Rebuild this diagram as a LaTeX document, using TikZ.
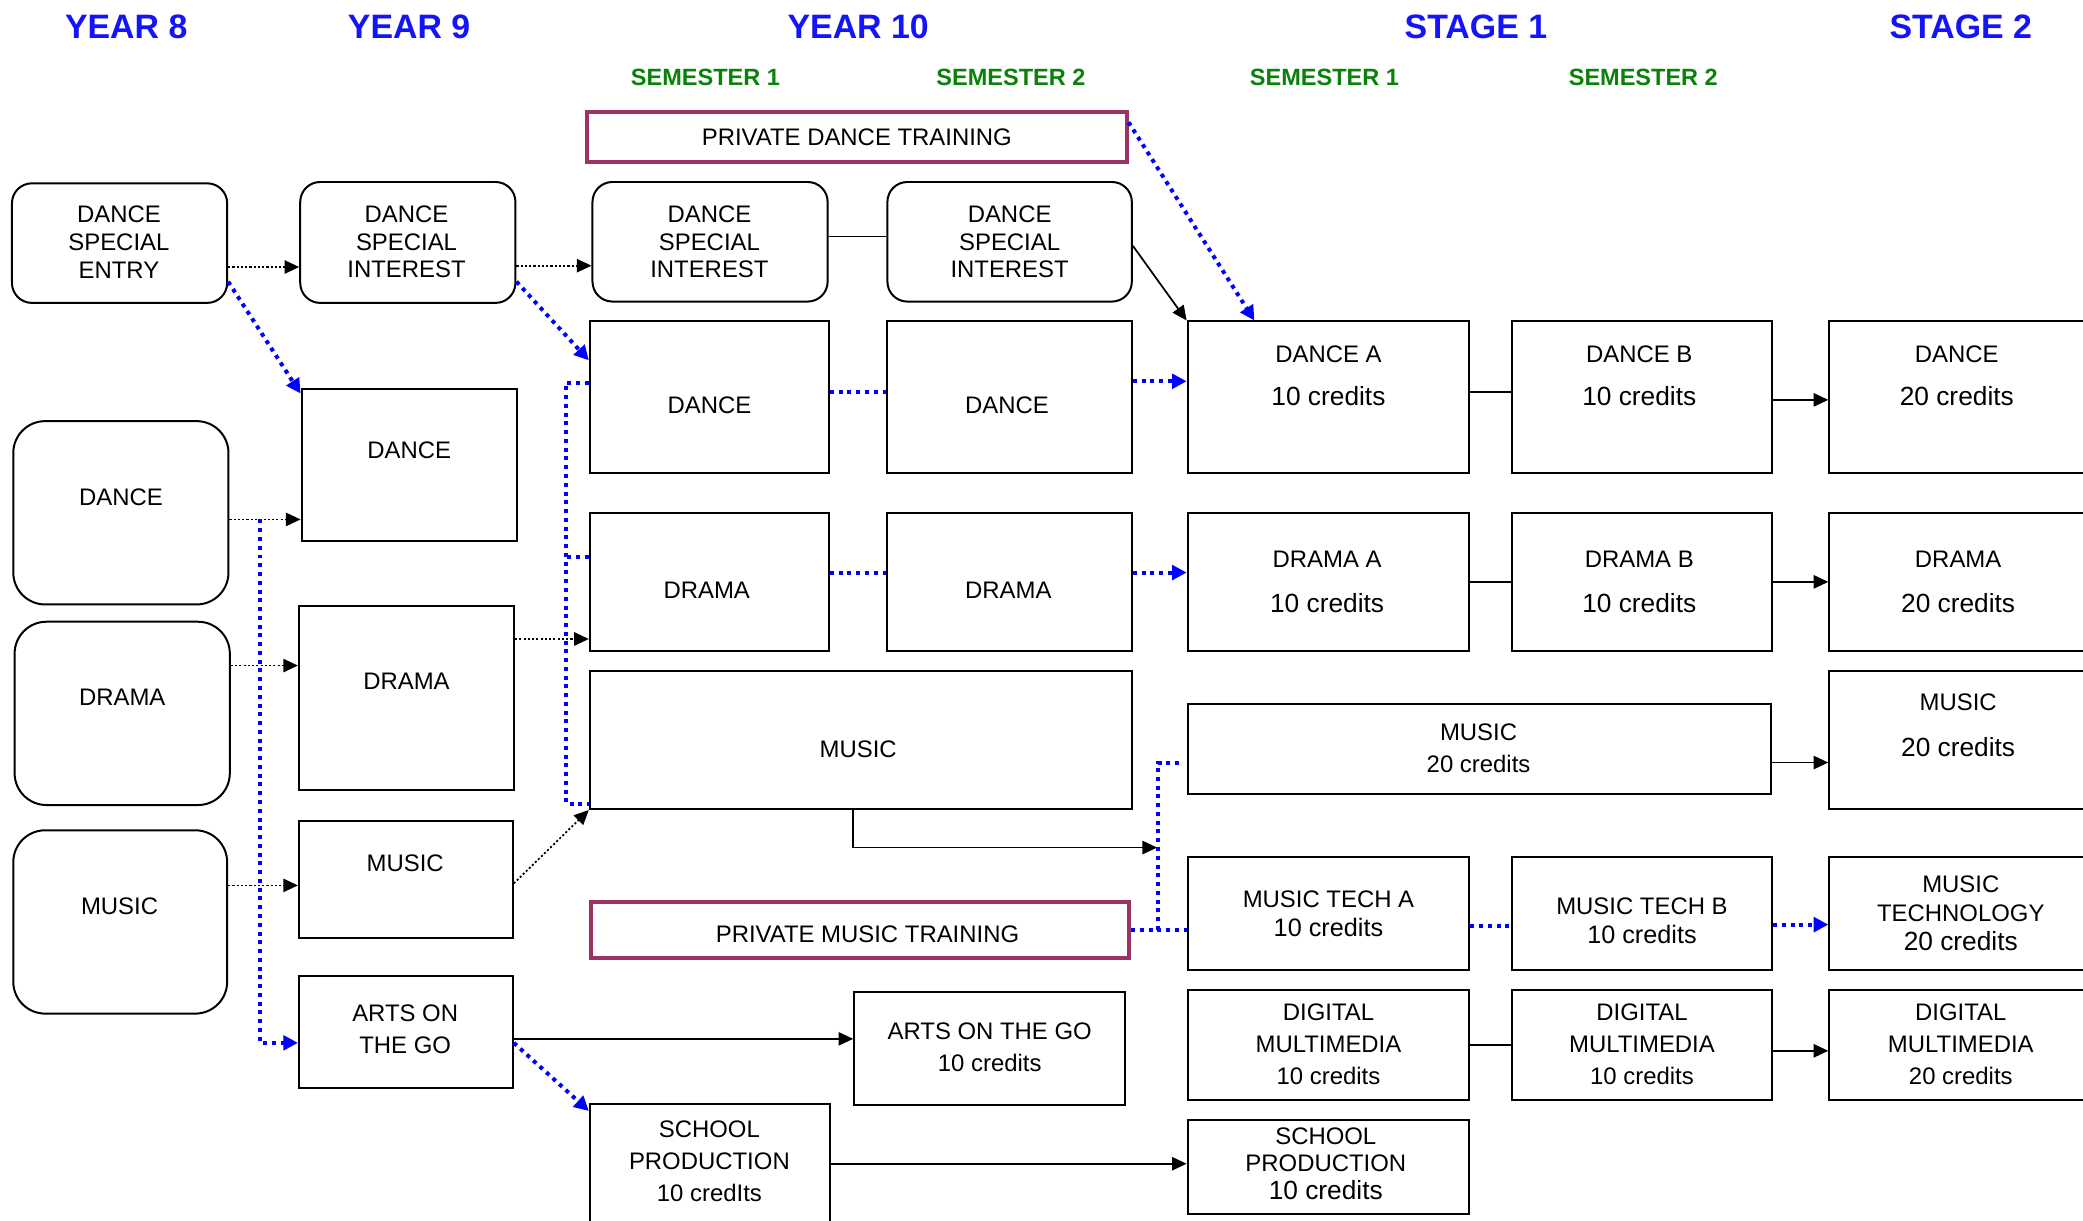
\documentclass[tikz,border=0pt]{standalone}
\usepackage{fontspec}
\setmainfont{Liberation Sans}
\usetikzlibrary{arrows.meta}
\definecolor{hblue}{RGB}{20,20,250}
\definecolor{sgreen}{RGB}{10,130,10}
\definecolor{ppl}{RGB}{153,51,102}
\definecolor{dblue}{RGB}{0,0,255}
\tikzset{
 box/.style={draw=black, line width=1.5pt, inner sep=0pt},
 rbox/.style={box, rounded corners=15pt},
 tbox/.style={box, rounded corners=24pt},
 pbox/.style={draw=ppl, line width=3pt, inner sep=0pt},
 txt/.style={inner sep=0pt, align=center},
 hd/.style={text=hblue, font=\fontsize{25.5}{30}\selectfont\bfseries, inner sep=0pt},
 sm/.style={text=sgreen, font=\fontsize{17.7}{21}\selectfont\bfseries, inner sep=0pt},
 kdot/.style={draw=black, line width=1.3pt, dash pattern=on 1.6pt off 1.6pt, -{Triangle[length=11pt,width=10pt]}},
 bdot/.style={draw=dblue, line width=3pt, dash pattern=on 3pt off 3.6pt},
 barr/.style={bdot, -{Triangle[length=11pt,width=11pt]}},
 sline/.style={draw=black, line width=1.3pt},
 sarr/.style={sline, -{Triangle[length=11pt,width=10pt]}},
}
\newcommand\mkbox[6]{\node[#1, minimum width=#5pt-#3pt, minimum height=#6pt-#4pt] (#2) at ({(#3+#5)/2},{(#4+#6)/2}) {};}
\newcommand\mktxt[5]{\node[txt, font=\fontsize{18}{#4}\selectfont] (#1) at (#2,#3) {#5};}
\newcommand\credb[1]{{\fontsize{19.8}{24}\selectfont #1}}
\newcommand\credm[1]{{\fontsize{19}{24}\selectfont #1}}
\begin{document}
\begin{tikzpicture}[x=1pt,y=-1pt]
\clip (0,0) rectangle (1568,919);
\fill[white] (0,0) rectangle (1568,919);
% headers
\node[hd] (hy8) at (95,20) {YEAR 8};
\node[hd] (hy9) at (308,20) {YEAR 9};
\node[hd] (hy10) at (646,20) {YEAR 10};
\node[hd] (hst1) at (1111,20) {STAGE 1};
\node[hd] (hst2) at (1476,20) {STAGE 2};
\node[sm] (sem1) at (531,58) {SEMESTER 1};
\node[sm] (sem2) at (761,58) {SEMESTER 2};
\node[sm] (sem3) at (997,58) {SEMESTER 1};
\node[sm] (sem4) at (1237,58) {SEMESTER 2};
% Year 8
\mkbox{rbox}{y8dse}{9}{138}{171}{228}
\mkbox{tbox}{y8dance}{10}{317}{172}{455}
\mkbox{tbox}{y8drama}{11}{468}{173}{606}
\mkbox{tbox}{y8music}{10}{625}{171}{763}
\mktxt{t-y8dse}{89.5}{182}{21}{DANCE\\SPECIAL\\ENTRY}
\mktxt{t-y8dance}{91}{374}{21}{DANCE}
\mktxt{t-y8drama}{92}{525}{21}{DRAMA}
\mktxt{t-y8music}{90}{682}{21}{MUSIC}
% Year 9
\mkbox{rbox}{y9dsi}{226}{137}{388}{228}
\mkbox{box}{y9dance}{227}{293}{389}{407}
\mkbox{box}{y9drama}{225}{456}{387}{595}
\mkbox{box}{y9music}{225}{618}{386}{706}
\mkbox{box}{y9arts}{225}{735}{386}{819}
\mktxt{t-y9dsi}{306}{182}{21}{DANCE\\SPECIAL\\INTEREST}
\mktxt{t-y9dance}{308}{339}{21}{DANCE}
\mktxt{t-y9drama}{306}{513}{21}{DRAMA}
\mktxt{t-y9music}{305}{650}{21}{MUSIC}
\mktxt{t-y9arts}{305}{775}{24}{ARTS ON\\THE GO}
% Year 10
\mkbox{pbox}{pdt}{442}{84}{848}{122}
\mkbox{rbox}{y10dsi1}{446}{137}{623}{227}
\mkbox{rbox}{y10dsi2}{668}{137}{852}{227}
\mkbox{box}{y10dance1}{444}{242}{624}{356}
\mkbox{box}{y10dance2}{668}{242}{852}{356}
\mkbox{box}{y10drama1}{444}{386}{624}{490}
\mkbox{box}{y10drama2}{668}{386}{852}{490}
\mkbox{box}{y10music}{444}{505}{852}{609}
\mkbox{pbox}{pmt}{445}{679}{850}{721}
\mkbox{box}{y10arts}{643}{747}{847}{832}
\mkbox{box}{y10school}{444}{831}{625}{935}
\mktxt{t-pdt}{645}{103}{21}{PRIVATE DANCE TRAINING}
\mktxt{t-y10dsi1}{534}{182}{21}{DANCE\\SPECIAL\\INTEREST}
\mktxt{t-y10dsi2}{760}{182}{21}{DANCE\\SPECIAL\\INTEREST}
\mktxt{t-y10dance1}{534}{305}{21}{DANCE}
\mktxt{t-y10dance2}{758}{305}{21}{DANCE}
\mktxt{t-y10drama1}{532}{444}{21}{DRAMA}
\mktxt{t-y10drama2}{759}{444}{21}{DRAMA}
\mktxt{t-y10music}{646}{564}{21}{MUSIC}
\mktxt{t-pmt}{653}{703}{21}{PRIVATE MUSIC TRAINING}
\mktxt{t-y10arts}{745}{788}{24}{ARTS ON THE GO\\10 credits}
\mktxt{t-y10school}{534}{874}{24}{SCHOOL\\PRODUCTION\\10 credIts}
% Stage 1
\mkbox{box}{s1danceA}{894}{242}{1106}{356}
\mkbox{box}{s1danceB}{1138}{242}{1334}{356}
\mkbox{box}{s1dramaA}{894}{386}{1106}{490}
\mkbox{box}{s1dramaB}{1138}{386}{1334}{490}
\mkbox{box}{s1music}{894}{530}{1333}{598}
\mkbox{box}{s1mtA}{894}{645}{1106}{730}
\mkbox{box}{s1mtB}{1138}{645}{1334}{730}
\mkbox{box}{s1dmA}{894}{745}{1106}{828}
\mkbox{box}{s1dmB}{1138}{745}{1334}{828}
\mkbox{box}{s1school}{894}{843}{1106}{914}
\mktxt{t-s1danceA}{1000}{283}{32}{DANCE A\\\credb{10 credits}}
\mktxt{t-s1danceB}{1234}{283}{32}{DANCE B\\\credb{10 credits}}
\mktxt{t-s1dramaA}{999}{438}{34}{DRAMA A\\\credb{10 credits}}
\mktxt{t-s1dramaB}{1234}{438}{34}{DRAMA B\\\credb{10 credits}}
\mktxt{t-s1music}{1113}{563}{24}{MUSIC\\20 credits}
\mktxt{t-s1mtA}{1000}{688}{22}{MUSIC TECH A\\\credm{10 credits}}
\mktxt{t-s1mtB}{1236}{693}{22}{MUSIC TECH B\\\credm{10 credits}}
\mktxt{t-s1dmA}{1000}{786}{24}{DIGITAL\\MULTIMEDIA\\10 credits}
\mktxt{t-s1dmB}{1236}{786}{24}{DIGITAL\\MULTIMEDIA\\10 credits}
\mktxt{t-s1school}{998}{876}{21}{SCHOOL\\PRODUCTION\\\credb{10 credits}}
% Stage 2
\mkbox{box}{s2dance}{1377}{242}{1590}{356}
\mkbox{box}{s2drama}{1377}{386}{1590}{490}
\mkbox{box}{s2music}{1377}{505}{1590}{609}
\mkbox{box}{s2mt}{1377}{645}{1590}{730}
\mkbox{box}{s2dm}{1377}{745}{1590}{828}
\mktxt{t-s2dance}{1473}{283}{32}{DANCE\\\credb{20 credits}}
\mktxt{t-s2drama}{1474}{438}{34}{DRAMA\\\credb{20 credits}}
\mktxt{t-s2music}{1474}{546}{34}{MUSIC\\\credb{20 credits}}
\mktxt{t-s2mt}{1476}{687.5}{21.5}{MUSIC\\TECHNOLOGY\\\credb{20 credits}}
\mktxt{t-s2dm}{1476}{786}{24}{DIGITAL\\MULTIMEDIA\\20 credits}
% Year 8 -> Year 9
\draw[kdot] ([yshift=-18pt]y8dse.east) -- ([yshift=-18pt]y8dse.east -| y9dsi.west);
\draw[barr] ([yshift=-29pt]y8dse.east) -- ([yshift=-4pt]y9dance.north west);
\draw[kdot] ([yshift=-5pt]y8dance.east) -- ([yshift=-5pt]y8dance.east -| y9dance.west);
\draw[kdot] ([yshift=36pt]y8drama.east) -- ([yshift=36pt]y8drama.east -| y9drama.west);
\draw[kdot] ([yshift=27.5pt]y8music.east) -- ([yshift=27.5pt]y8music.east -| y9music.west);
\coordinate (bst) at (196,391);
\draw[barr] (bst) |- ([yshift=-8pt]y9arts.west);
% Year 9 -> Year 10
\draw[kdot] ([yshift=-17.5pt]y9dsi.east) -- ([yshift=-17.5pt]y9dsi.east -| y10dsi1.west);
\draw[barr] ([yshift=-29.5pt]y9dsi.east) -- ([yshift=-30pt]y10dance1.north west);
\draw[kdot] ([yshift=44.5pt]y9drama.east) -- ([yshift=44.5pt]y9drama.east -| y10drama1.west);
\draw[kdot] ([yshift=-3pt]y9music.east) -- (y10music.south west);
\draw[sarr] ([yshift=-5pt]y9arts.east) -- ([yshift=-5pt]y9arts.east -| y10arts.west);
\draw[barr] ([yshift=-8pt]y9arts.east) -- ([yshift=-6pt]y10school.north west);
\draw[bdot] ([yshift=11pt]y10dance1.west) -- ++(-17,0) |- ([yshift=-48pt]y10music.west);
\draw[bdot] ([yshift=19pt]y10drama1.west) -- ++(-17,0);
% Year 10 internal
\draw[sline] ([yshift=4pt]y10dsi1.east) -- ([yshift=4pt]y10dsi1.east -| y10dsi2.west);
\draw[bdot] ([yshift=4pt]y10dance1.east) -- ([yshift=4pt]y10dance1.east -| y10dance2.west);
\draw[bdot] ([yshift=7pt]y10drama1.east) -- ([yshift=7pt]y10drama1.east -| y10drama2.west);
% Year 10 -> Stage 1
\draw[sarr] ([yshift=-3pt]y10dsi2.east) -- (s1danceA.north west);
\draw[barr] ([yshift=11pt]pdt.east) -- ([xshift=51pt]s1danceA.north west);
\draw[barr] ([yshift=12pt]y10dance2.east) -- ([yshift=12pt]y10dance2.east -| s1danceA.west);
\draw[barr] ([yshift=7pt]y10drama2.east) -- ([yshift=7pt]y10drama2.east -| s1dramaA.west);
\coordinate (mjn) at (871,638);
\draw[sarr] ([xshift=-6pt]y10music.south) |- (mjn);
\coordinate (mft) at (872,700);
\coordinate (mtp) at (872,574);
\draw[bdot] (pmt.east) -- (pmt.east -| s1mtA.west);
\draw[bdot] (mft) -- (mtp) -- ([xshift=-4pt]mtp -| s1music.west);
\draw[sarr] ([yshift=7pt]y10school.east) -- ([yshift=7pt]y10school.east -| s1school.west);
% Stage 1 internal
\draw[sline] ([yshift=4pt]s1danceA.east) -- ([yshift=4pt]s1danceA.east -| s1danceB.west);
\draw[sline] (s1dramaA.east) -- (s1dramaB.west);
\draw[bdot] ([yshift=-9.5pt]s1mtA.east) -- ([yshift=-9.5pt]s1mtA.east -| s1mtB.west);
\draw[sline] (s1dmA.east) -- (s1dmB.west);
% Stage 1 -> Stage 2
\draw[sarr] ([yshift=-2pt]s1danceB.east) -- ([yshift=-2pt]s1danceB.east -| s2dance.west);
\draw[sarr] (s1dramaB.east) -- (s1dramaB.east -| s2drama.west);
\draw[sarr] ([yshift=-10pt]s1music.east) -- ([yshift=-10pt]s1music.east -| s2music.west);
\draw[barr] ([yshift=-8.5pt]s1mtB.east) -- ([yshift=-8.5pt]s1mtB.east -| s2mt.west);
\draw[sarr] ([yshift=-4.5pt]s1dmB.east) -- ([yshift=-4.5pt]s1dmB.east -| s2dm.west);
\end{tikzpicture}
\end{document}
